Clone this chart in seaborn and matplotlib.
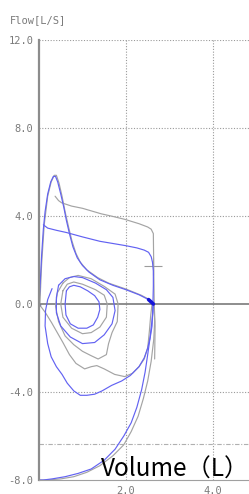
import numpy as np
import pandas as pd
import matplotlib
matplotlib.use('agg')
import matplotlib.pyplot as plt
import seaborn as sns

# flow-volume traces (volume L, flow L/s)
blue_forced_x = [0.0, 0.03, 0.06, 0.1, 0.14, 0.2, 0.27, 0.33, 0.38, 0.43, 0.5, 0.57, 0.63, 0.7, 0.78, 0.88,
                 1.0, 1.15, 1.4, 1.7, 2.0, 2.3, 2.5, 2.6, 2.63,
                 2.62, 2.59, 2.55, 2.5, 2.44, 2.36, 2.25, 2.12, 1.95, 1.75, 1.5, 1.2, 0.9, 0.6, 0.3, 0.1, 0.0]
blue_forced_y = [0.0, 1.0, 2.2, 3.4, 4.2, 5.0, 5.55, 5.8, 5.8, 5.55, 5.0, 4.4, 3.8, 3.2, 2.6, 2.1,
                 1.75, 1.45, 1.1, 0.85, 0.65, 0.42, 0.22, 0.08, 0.0,
                 -0.4, -0.9, -1.6, -2.3, -3.1, -3.9, -4.7, -5.4, -6.0, -6.6, -7.1, -7.5, -7.7, -7.85, -7.95, -8.0, -8.0]

blue_plateau_x = [0.1, 0.2, 0.4, 0.63, 1.0, 1.4, 1.7, 2.0, 2.25, 2.42, 2.52, 2.58, 2.61, 2.63, 2.63, 2.62,
                  2.6, 2.56, 2.5, 2.42, 2.3, 2.1, 1.9, 1.67, 1.45, 1.28, 1.1, 0.95, 0.8, 0.65, 0.53, 0.4, 0.28,
                  0.2, 0.14, 0.15, 0.2, 0.3]
blue_plateau_y = [3.6, 3.45, 3.35, 3.25, 3.05, 2.85, 2.75, 2.65, 2.55, 2.45, 2.35, 2.15, 1.9, 1.5, 0.8, 0.0,
                  -1.0, -1.5, -2.0, -2.45, -2.85, -3.25, -3.5, -3.7, -3.95, -4.1, -4.15, -4.15, -3.95, -3.6,
                  -3.2, -2.85, -2.4, -1.8, -1.0, -0.3, 0.2, 0.7]

grey_forced_x = [0.02, 0.06, 0.12, 0.2, 0.28, 0.35, 0.4, 0.46, 0.53, 0.6, 0.68, 0.76, 0.85, 0.95, 1.1, 1.35,
                 1.6, 2.0, 2.35, 2.56, 2.64,
                 2.66, 2.64, 2.58, 2.5, 2.4, 2.28, 2.12, 1.95, 1.7, 1.4, 1.1, 0.8, 0.5, 0.2, 0.0]
grey_forced_y = [0.0, 1.8, 3.6, 4.9, 5.55, 5.85, 5.85, 5.5, 4.9, 4.2, 3.5, 2.85, 2.3, 1.9, 1.55, 1.2,
                 0.95, 0.68, 0.4, 0.18, 0.02,
                 -0.8, -1.6, -2.6, -3.5, -4.3, -5.1, -5.8, -6.4, -6.9, -7.35, -7.65, -7.85, -7.95, -8.0, -8.0]

grey_plateau_x = [0.37, 0.45, 0.52, 0.75, 1.0, 1.43, 1.7, 1.97, 2.3, 2.5, 2.58, 2.63, 2.64, 2.65, 2.67, 2.66]
grey_plateau_y = [4.9, 4.7, 4.6, 4.45, 4.35, 4.1, 3.98, 3.85, 3.65, 3.5, 3.4, 3.2, 1.5, 0.0, -1.0, -2.5]

tidal_loops = {
    'blue_a': ([0.63, 0.7, 0.8, 0.95, 1.12, 1.28, 1.38, 1.4, 1.35, 1.25, 1.1, 0.9, 0.72, 0.62, 0.6, 0.63],
               [0.6, 0.78, 0.85, 0.78, 0.6, 0.38, 0.1, -0.25, -0.6, -0.95, -1.1, -1.1, -0.9, -0.5, 0.0, 0.6]),
    'grey_b': ([0.55, 0.65, 0.8, 1.0, 1.3, 1.5, 1.57, 1.55, 1.4, 1.2, 1.0, 0.75, 0.55, 0.5, 0.55],
               [0.6, 0.9, 1.0, 0.9, 0.65, 0.4, 0.0, -0.6, -1.05, -1.3, -1.35, -1.1, -0.6, 0.0, 0.6]),
    'blue_c': ([0.45, 0.6, 0.8, 1.0, 1.3, 1.55, 1.7, 1.75, 1.68, 1.5, 1.28, 1.0, 0.72, 0.5, 0.4, 0.4, 0.45],
               [0.85, 1.15, 1.25, 1.2, 0.95, 0.65, 0.3, -0.3, -0.9, -1.4, -1.75, -1.8, -1.5, -1.0, -0.4, 0.3, 0.85]),
    'grey_d': ([0.55, 0.7, 0.9, 1.2, 1.5, 1.75, 1.82, 1.8, 1.68, 1.6, 1.55, 1.36, 1.2, 1.0, 0.8, 0.6, 0.45,
                0.38, 0.42, 0.55],
               [0.95, 1.2, 1.3, 1.15, 0.8, 0.45, 0.0, -0.8, -1.3, -1.8, -2.3, -2.5, -2.35, -2.15, -1.85, -1.45,
                -0.8, -0.1, 0.5, 0.95]),
    'grey_f': ([0.0, 0.15, 0.29, 0.42, 0.55, 0.7, 0.85, 1.05, 1.2, 1.33, 1.5, 1.74, 1.97, 2.15, 2.3, 2.42,
                2.5, 2.54, 2.57, 2.6],
               [0.0, -0.4, -0.85, -1.3, -1.75, -2.3, -2.7, -2.95, -2.85, -2.8, -2.95, -3.2, -3.3, -3.15, -2.85,
                -2.5, -2.0, -1.2, -0.5, 0.0]),
}

marker_x = [2.63]
marker_y = [1.75]
end_x = [2.52, 2.63]
end_y = [0.2, 0.0]

y_ticks = [-8.0, -4.0, 0.0, 4.0, 8.0, 12.0]
x_ticks = [2.0, 4.0]

blue = '#6262f2'
grey = '#a4a4a4'

sns.set_style('white')
fig = plt.figure(figsize=(2.49, 4.94), dpi=100)
ax = fig.add_axes([39 / 249, 14 / 494, 210 / 249, 440 / 494])

traces = [
    (grey_forced_x, grey_forced_y, grey),
    (grey_plateau_x, grey_plateau_y, grey),
    (tidal_loops['grey_b'][0], tidal_loops['grey_b'][1], grey),
    (tidal_loops['grey_d'][0], tidal_loops['grey_d'][1], grey),
    (tidal_loops['grey_f'][0], tidal_loops['grey_f'][1], grey),
    (blue_forced_x, blue_forced_y, blue),
    (blue_plateau_x, blue_plateau_y, blue),
    (tidal_loops['blue_a'][0], tidal_loops['blue_a'][1], blue),
    (tidal_loops['blue_c'][0], tidal_loops['blue_c'][1], blue),
]
for xs, ys, c in traces:
    sns.lineplot(x=xs, y=ys, sort=False, estimator=None, color=c, lw=0.85, ax=ax)

# dense end-of-expiration blob and origin mark
sns.lineplot(x=end_x, y=end_y, sort=False, estimator=None, color='#1414d8', lw=2.6, ax=ax)
sns.scatterplot(x=[0.0], y=[-0.05], color='#2020c0', s=10, edgecolor='none', ax=ax)
sns.scatterplot(x=marker_x, y=marker_y, marker='+', s=160, color='#9c9c9c', linewidth=0.8, ax=ax)

# grid and reference lines
for v in [-4, 4, 8, 12]:
    ax.axhline(v, color='#9a9a9a', lw=0.8, ls=(0, (1, 1.5)), zorder=0)
for v in x_ticks:
    ax.axvline(v, color='#9a9a9a', lw=0.8, ls=(0, (1, 1.5)), zorder=0)
ax.axhline(-6.35, color='#b0b0b0', lw=0.8, ls=(0, (4, 1.5, 1, 1.5)), zorder=0)
ax.axhline(0, color='#7a7a7a', lw=1.2, zorder=1)

ax.set_xlim(0, 4.83)
ax.set_ylim(-8, 12)
ax.set_yticks(y_ticks)
ax.set_yticklabels([f'{v:.1f}' for v in y_ticks])
ax.set_xticks(x_ticks)
ax.set_xticklabels([f'{v:.1f}' for v in x_ticks])
ax.tick_params(axis='both', length=3, width=0.8, color='#888888', labelcolor='#7a7a7a',
               labelsize=7.5, pad=1)
for lab in ax.get_xticklabels() + ax.get_yticklabels():
    lab.set_family('DejaVu Sans Mono')

for s in ['top', 'right']:
    ax.spines[s].set_visible(False)
ax.spines['left'].set_color('#8c8c8c')
ax.spines['left'].set_linewidth(1.6)
ax.spines['bottom'].set_color('#a0a0a0')
ax.spines['bottom'].set_linewidth(0.8)

fig.text(10 / 249, 1 - 20 / 494, 'Flow[L/S]', family='DejaVu Sans Mono', fontsize=7.5,
         color='#7a7a7a', va='center', ha='left')
fig.text(175 / 249, 1 - 477 / 494, 'Volume（L）', family=['Noto Sans CJK JP', 'DejaVu Sans'],
         fontsize=17.5, color='black', ha='center', va='baseline')

fig.savefig('out.png', dpi=100)
